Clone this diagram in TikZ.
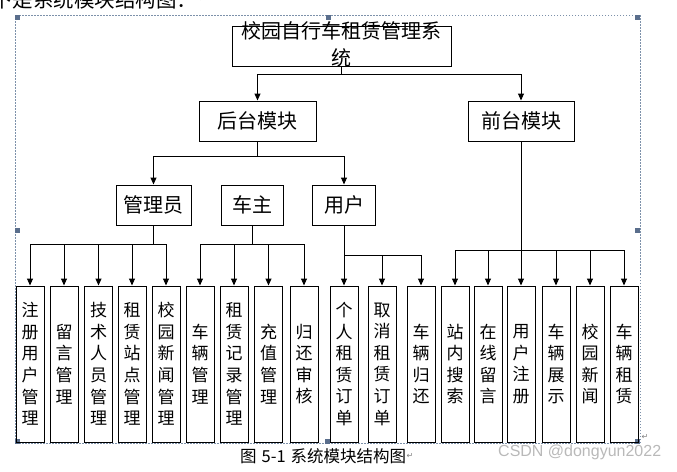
\documentclass[tikz,border=0pt]{standalone}
\usepackage{fontspec}
\setmainfont{Noto Sans CJK SC}
\newfontfamily\marksfont{DejaVu Sans}
\newfontfamily\wmfont{Liberation Sans}
\usetikzlibrary{arrows.meta}

\definecolor{framegray}{RGB}{125,145,170}
\definecolor{handleblue}{RGB}{90,110,140}

\tikzset{
  box/.style = {draw, line width=1pt, inner sep=0pt, minimum height=40pt, font=\fontsize{20}{24}\selectfont},
  leaf/.style = {draw, line width=1pt, inner sep=0pt, minimum width=28pt, minimum height=156pt, align=center, font=\fontsize{17}{21.6}\selectfont},
  link/.style = {line width=1pt, -{Triangle[length=7pt,width=6pt]}},
  wire/.style = {line width=1pt},
  paramark/.style = {text=gray, font=\marksfont\fontsize{8}{9}\selectfont, inner sep=0pt},
}

\begin{document}
\begin{tikzpicture}[x=1pt, y=-1pt]
\useasboundingbox (0,0) rectangle (677,471);
% text above the frame, cut by the page edge
\node[anchor=base west, inner sep=0pt, font=\fontsize{20.5}{24}\selectfont] (intro) at (-8,7) {下是系统模块结构图：};
\node[paramark, anchor=west] (introend) at (intro.east) {\,↵};
% frame with its handles
\draw[framegray, line width=0.6pt, dash pattern=on 1.5pt off 1.5pt] (15,15) rectangle (640,443);
\foreach \hx/\hy in {17/17, 328/17, 637/17, 17/230, 637/230, 17/441, 327/441, 637/441}
  \fill[handleblue] (\hx-2.5,\hy-2.5) rectangle (\hx+2.5,\hy+2.5);
\node[paramark] (frameend) at (645,437) {↵};

% upper levels
\node[box, minimum width=219pt] (sys) at (341.5,46) {};
\node[align=center, inner sep=0pt, font=\fontsize{20}{27}\selectfont] (sysname) at (341.5,44) {校园自行车租赁管理系\\统};
\node[box, minimum width=117pt] (back) at (257.5,121) {后台模块};
\node[box, minimum width=106pt] (front) at (521,121) {前台模块};
\node[box, minimum width=75pt] (adm) at (153.5,205) {管理员};
\node[box, minimum width=62pt] (own) at (252,205) {车主};
\node[box, minimum width=63pt] (usr) at (344,205) {用户};

% leaves
\node[leaf] (l1) at (30,364) {注\\册\\用\\户\\管\\理};
\node[leaf] (l2) at (64,364) {留\\言\\管\\理};
\node[leaf] (l3) at (98.5,364) {技\\术\\人\\员\\管\\理};
\node[leaf] (l4) at (132,364) {租\\赁\\站\\点\\管\\理};
\node[leaf] (l5) at (166,364) {校\\园\\新\\闻\\管\\理};
\node[leaf] (l6) at (200,364) {车\\辆\\管\\理};
\node[leaf] (l7) at (234,364) {租\\赁\\记\\录\\管\\理};
\node[leaf] (l8) at (268.5,364) {充\\值\\管\\理};
\node[leaf] (l9) at (304,364) {归\\还\\审\\核};
\node[leaf] (l10) at (344,364) {个\\人\\租\\赁\\订\\单};
\node[leaf] (l11) at (382,364) {取\\消\\租\\赁\\订\\单};
\node[leaf] (l12) at (421,364) {车\\辆\\归\\还};
\node[leaf] (l13) at (455,364) {站\\内\\搜\\索};
\node[leaf] (l14) at (488,364) {在\\线\\留\\言};
\node[leaf] (l15) at (521,364) {用\\户\\注\\册};
\node[leaf] (l16) at (556,364) {车\\辆\\展\\示};
\node[leaf] (l17) at (590,364) {校\\园\\新\\闻};
\node[leaf] (l18) at (624,364) {车\\辆\\租\\赁};

% connectors
\coordinate (j0) at (341.5,74);
\draw[link] (sys.south) -- (j0) -| (back.north);
\draw[link] (j0) -| (front.north);
\coordinate (j1) at (257.5,156);
\draw[link] (back.south) -- (j1) -| (adm.north);
\draw[link] (j1) -| (usr.north);
\coordinate (j2) at (153.5,244);
\draw[wire] (adm.south) -- (j2);
\foreach \n in {l1,l2,l3,l4,l5}
  \draw[link] (j2) -| (\n.north);
\coordinate (j3) at (252,244);
\draw[wire] (own.south) -- (j3);
\foreach \n in {l6,l7,l8,l9}
  \draw[link] (j3) -| (\n.north);
\coordinate (j4) at (344,255);
\draw[link] (usr.south) -- (l10.north);
\foreach \n in {l11,l12}
  \draw[link] (j4) -| (\n.north);
\coordinate (j5) at (521,250);
\draw[wire] (front.south) -- (j5);
\foreach \n in {l13,l14,l15,l16,l17,l18}
  \draw[link] (j5) -| (\n.north);

% caption and watermark
\node[anchor=west, inner sep=0pt, font=\fontsize{16.5}{18}\selectfont] (cap) at (240,456) {图\hspace{5pt}5-1\hspace{5pt}系统模块结构图};
\node[paramark, anchor=west] (capend) at (cap.east) {↵};
\node[anchor=west, inner sep=0pt, text=gray!55, font=\wmfont\fontsize{16}{18}\selectfont] (wm) at (498,452) {CSDN @dongyun2022};
\end{tikzpicture}
\end{document}
